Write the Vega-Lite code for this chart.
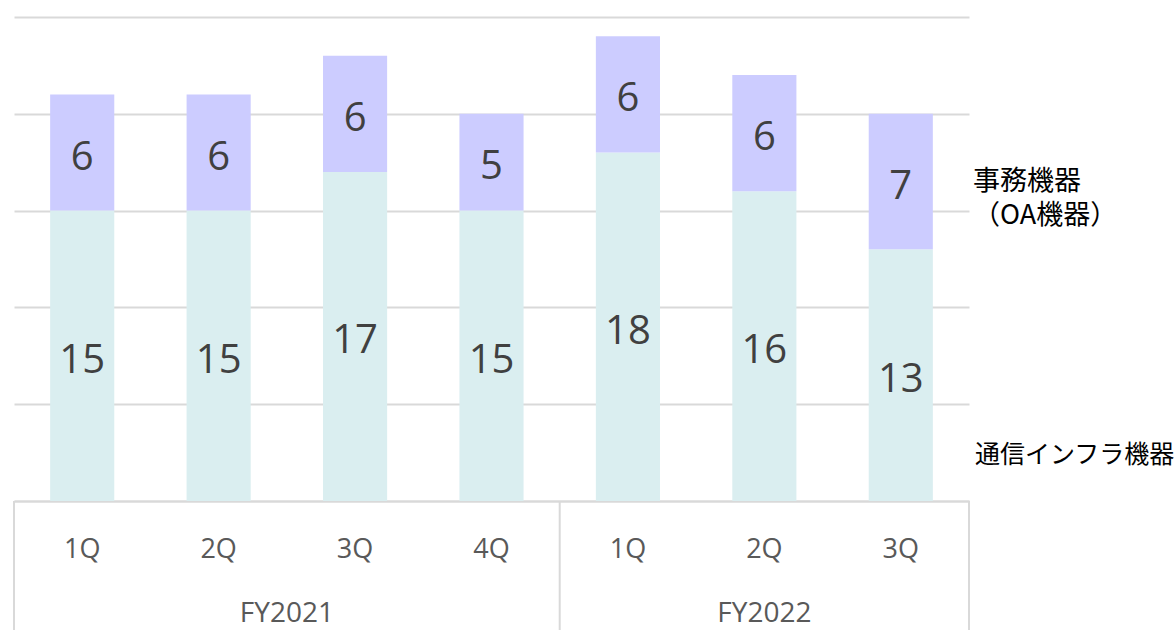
{
  "$schema": "https://vega.github.io/schema/vega-lite/v6.json",
  "autosize": "none",
  "width": 955,
  "height": 484,
  "padding": {"left": 14, "top": 17, "right": 207, "bottom": 129},
  "background": "white",
  "config": {"view": {"stroke": null}, "font": "Open Sans, Noto Sans CJK JP"},
  "data": {
    "values": [
      {"q": "FY2021-1Q", "series": "通信インフラ機器", "value": 15},
      {"q": "FY2021-1Q", "series": "事務機器", "value": 6},
      {"q": "FY2021-2Q", "series": "通信インフラ機器", "value": 15},
      {"q": "FY2021-2Q", "series": "事務機器", "value": 6},
      {"q": "FY2021-3Q", "series": "通信インフラ機器", "value": 17},
      {"q": "FY2021-3Q", "series": "事務機器", "value": 6},
      {"q": "FY2021-4Q", "series": "通信インフラ機器", "value": 15},
      {"q": "FY2021-4Q", "series": "事務機器", "value": 5},
      {"q": "FY2022-1Q", "series": "通信インフラ機器", "value": 18},
      {"q": "FY2022-1Q", "series": "事務機器", "value": 6},
      {"q": "FY2022-2Q", "series": "通信インフラ機器", "value": 16},
      {"q": "FY2022-2Q", "series": "事務機器", "value": 6},
      {"q": "FY2022-3Q", "series": "通信インフラ機器", "value": 13},
      {"q": "FY2022-3Q", "series": "事務機器", "value": 7}
    ]
  },
  "layer": [
    {
      "mark": {"type": "bar", "width": {"band": 0.47}},
      "encoding": {
        "x": {
          "field": "q",
          "type": "ordinal",
          "sort": null,
          "scale": {"paddingInner": 0, "paddingOuter": 0},
          "axis": {
            "title": null,
            "labelExpr": "slice(datum.value, 7)",
            "labelAngle": 0,
            "labelFont": "Open Sans",
            "labelFontSize": 27,
            "labelColor": "#595959",
            "labelPadding": 48,
            "labelBaseline": "middle",
            "domainColor": "#D9D9D9",
            "domainWidth": 2,
            "ticks": false
          }
        },
        "y": {
          "field": "value",
          "type": "quantitative",
          "stack": "zero",
          "scale": {"domain": [0, 25], "nice": false},
          "axis": {
            "title": null,
            "values": [0, 5, 10, 15, 20, 25],
            "labels": false,
            "ticks": false,
            "domain": false,
            "gridColor": "#D9D9D9",
            "gridWidth": 2
          }
        },
        "color": {
          "field": "series",
          "type": "nominal",
          "sort": ["通信インフラ機器", "事務機器"],
          "scale": {"domain": ["通信インフラ機器", "事務機器"], "range": ["#DAEEF0", "#CCCCFF"]},
          "legend": null
        }
      }
    },
    {
      "transform": [
        {"window": [{"op": "sum", "field": "value", "as": "cum"}], "groupby": ["q"], "sort": [{"field": "series", "order": "descending"}], "frame": [null, 0]},
        {"calculate": "datum.cum - datum.value / 2", "as": "mid"}
      ],
      "mark": {"type": "text", "fontSize": 40, "color": "#404040", "baseline": "middle", "dy": 5, "font": "Open Sans"},
      "encoding": {
        "x": {"field": "q", "type": "ordinal", "sort": null},
        "y": {"field": "mid", "type": "quantitative"},
        "text": {"field": "value", "type": "quantitative"}
      }
    },
    {
      "data": {"values": [{"edge": "FY2021-1Q"}, {"edge": "FY2022-1Q"}]},
      "mark": {"type": "rule", "color": "#D9D9D9", "strokeWidth": 2},
      "encoding": {
        "x": {"field": "edge", "type": "ordinal", "sort": null, "bandPosition": 0},
        "y": {"datum": 0, "type": "quantitative"},
        "y2": {"datum": -7}
      }
    },
    {
      "data": {"values": [{"edge": "FY2022-3Q"}]},
      "mark": {"type": "rule", "color": "#D9D9D9", "strokeWidth": 2},
      "encoding": {
        "x": {"field": "edge", "type": "ordinal", "sort": null, "bandPosition": 1},
        "y": {"datum": 0, "type": "quantitative"},
        "y2": {"datum": -7}
      }
    },
    {
      "data": {"values": [{"fy": "FY2021", "anchor": "FY2021-3Q"}]},
      "mark": {"type": "text", "fontSize": 28, "color": "#595959", "baseline": "middle", "dy": 113, "font": "Open Sans"},
      "encoding": {
        "x": {"field": "anchor", "type": "ordinal", "sort": null, "bandPosition": 0},
        "y": {"datum": 0, "type": "quantitative"},
        "text": {"field": "fy"}
      }
    },
    {
      "data": {"values": [{"fy": "FY2022", "anchor": "FY2022-2Q"}]},
      "mark": {"type": "text", "fontSize": 28, "color": "#595959", "baseline": "middle", "dy": 113, "font": "Open Sans"},
      "encoding": {
        "x": {"field": "anchor", "type": "ordinal", "sort": null, "bandPosition": 0.5},
        "y": {"datum": 0, "type": "quantitative"},
        "text": {"field": "fy"}
      }
    },
    {
      "data": {"values": [
        {"label": "事務機器", "anchor": "FY2022-3Q", "level": 16.5},
        {"label": "（OA機器）", "anchor": "FY2022-3Q", "level": 14.7}
      ]},
      "mark": {"type": "text", "fontSize": 27, "color": "#000000", "align": "left", "baseline": "middle", "dx": 4, "font": "Noto Sans CJK JP"},
      "encoding": {
        "x": {"field": "anchor", "type": "ordinal", "sort": null, "bandPosition": 1},
        "y": {"field": "level", "type": "quantitative"},
        "text": {"field": "label"}
      }
    },
    {
      "data": {"values": [
        {"label": "通信インフラ機器", "anchor": "FY2022-3Q", "level": 2.4}
      ]},
      "mark": {"type": "text", "fontSize": 25, "color": "#000000", "align": "left", "baseline": "middle", "dx": 6, "font": "Noto Sans CJK JP"},
      "encoding": {
        "x": {"field": "anchor", "type": "ordinal", "sort": null, "bandPosition": 1},
        "y": {"field": "level", "type": "quantitative"},
        "text": {"field": "label"}
      }
    }
  ]
}
